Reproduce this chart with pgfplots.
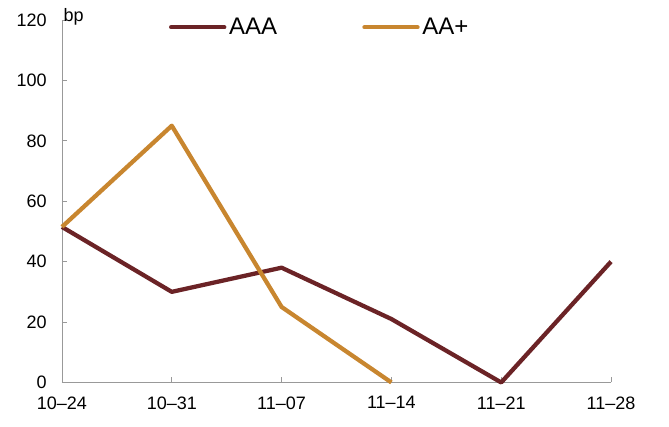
\documentclass[border=0pt]{standalone}
\usepackage{fontspec}
\setmainfont{Liberation Sans}
\usepackage{pgfplots}
\pgfplotsset{compat=1.18}
\definecolor{aaa}{HTML}{6B2326}
\definecolor{aap}{HTML}{C8862F}
\begin{document}
\begin{tikzpicture}
\begin{axis}[
  scale only axis,
  width=412pt, height=272pt,
  xmin=0, xmax=5, ymin=0, ymax=120,
  xtick={0,1,2,3,4,5},
  xticklabels={10--24,10--31,11--07,11--14,11--21,11--28},
  ytick={0,20,40,60,80,100,120},
  axis x line=bottom, axis y line=left,
  axis line style={-, draw=gray!80, line width=0.6pt},
  tick style={draw=gray!80, line width=0.6pt},
  tick align=inside,
  major tick length=4pt,
  ticklabel style={font=\fontsize{13.5}{15}\selectfont},
  /pgf/number format/assume math mode=true,
  xticklabel style={yshift=-7pt},
  yticklabel style={xshift=-8pt},
  clip=false,
  legend columns=2,
  legend style={draw=none, fill=none, at={(0.47,0.98)}, anchor=center, font=\fontsize{18}{20}\selectfont,
    /tikz/every even column/.append style={column sep=62pt}},
  legend image code/.code={\draw[#1, line cap=round] (0cm,0cm) -- (1.4cm,0cm);},
]
\addplot[aaa, line width=3.2pt, line join=round] coordinates {(0,51.5) (1,30) (2,38) (3,21) (4,0) (5,40)};
\addlegendentry{AAA}
\addplot[aap, line width=3.2pt, line join=round] coordinates {(0,51.5) (1,85) (2,25) (3,0)};
\addlegendentry{AA+}
\node[anchor=south west, font=\fontsize{13.5}{15}\selectfont, inner sep=1pt, yshift=-5pt] at (rel axis cs:0,1) {bp};
\end{axis}
\path ([xshift=-46.5pt,yshift=-33pt]current axis.south west) rectangle ([xshift=43.5pt,yshift=15pt]current axis.north east);
\end{tikzpicture}
\end{document}
